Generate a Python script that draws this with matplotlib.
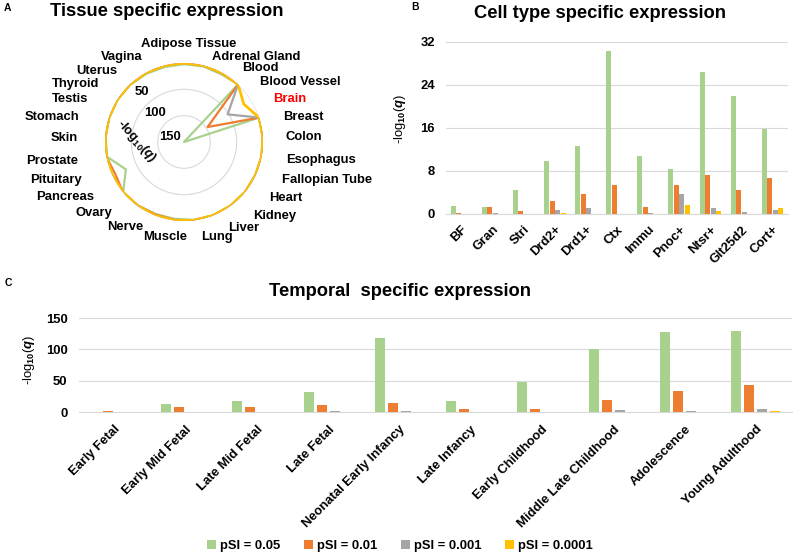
import numpy as np
import matplotlib
matplotlib.use("Agg")
from matplotlib import pyplot as plt

plt.rcParams['font.family'] = ['Liberation Sans', 'DejaVu Sans']
plt.rcParams['font.weight'] = 'bold'
plt.rcParams['mathtext.fontset'] = 'custom'
plt.rcParams['mathtext.rm'] = 'Liberation Sans:bold'
plt.rcParams['mathtext.it'] = 'Liberation Sans:italic:bold'
plt.rcParams['mathtext.bf'] = 'Liberation Sans:bold'

# ---- data ----
series = ['pSI = 0.05', 'pSI = 0.01', 'pSI = 0.001', 'pSI = 0.0001']
colors = ['#A9D18E', '#ED7D31', '#A5A5A5', '#FFC000']

tissues = ['Adipose Tissue', 'Adrenal Gland', 'Blood', 'Blood Vessel', 'Brain',
           'Breast', 'Colon', 'Esophagus', 'Fallopian Tube', 'Heart', 'Kidney',
           'Liver', 'Lung', 'Muscle', 'Nerve', 'Ovary', 'Pancreas', 'Pituitary',
           'Prostate', 'Skin', 'Stomach', 'Testis', 'Thyroid', 'Uterus', 'Vagina']
tis_p05 = [2, 2, 3, 0, 150, 0, 0, 0, 1, 0, 0, 0, 1, 3, 3, 1, 0, 28, 1, 1, 1, 0, 1, 2, 3]
tis_p01 = [0, 0, 1, 0, 97, 0, 0, 0, 0, 0, 0, 0, 0, 1, 2, 1, 0, 6, 0, 0, 0, 0, 0, 0, 0]
tis_p001 = [0, 0, 0, 0, 52, 0, 0, 0, 0, 0, 0, 0, 0, 0, 0, 0, 0, 0, 0, 0, 0, 0, 0, 0, 0]
tis_p0001 = [0, 0, 0, 0, 15.5, 0, 0, 0, 0, 0, 0, 0, 0, 0, 0, 0, 0, 0, 0, 0, 0, 0, 0, 0, 0]

cells = ['BF', 'Gran', 'Stri', 'Drd2+', 'Drd1+', 'Ctx', 'Immu', 'Pnoc+', 'Ntsr+',
         'Glt25d2', 'Cort+']
cell_p05 = [1.5, 1.35, 4.45, 9.8, 12.6, 30.3, 10.8, 8.3, 26.3, 22.0, 15.8]
cell_p01 = [0.12, 1.3, 0.55, 2.35, 3.65, 5.3, 1.3, 5.3, 7.3, 4.5, 6.7]
cell_p001 = [0.03, 0.1, 0, 0.75, 1.2, 0, 0.1, 3.65, 1.2, 0.45, 0.8]
cell_p0001 = [0, 0, 0, 0.25, 0, 0, 0, 1.67, 0.6, 0, 1.2]

stages = ['Early Fetal', 'Early Mid Fetal', 'Late Mid Fetal', 'Late Fetal',
          'Neonatal Early Infancy', 'Late Infancy', 'Early Childhood',
          'Middle Late Childhood', 'Adolescence', 'Young Adulthood']
stage_p05 = [0.3, 12.7, 18.6, 33, 118, 18.6, 48.3, 101, 127, 129]
stage_p01 = [2, 9, 8, 12.2, 15.4, 5.3, 4.8, 20.2, 34, 43.5]
stage_p001 = [0, 0, 0, 2, 2.6, 0, 0, 3.2, 1.6, 5.8]
stage_p0001 = [0, 0, 0, 0, 0, 0, 0, 0, 0, 1.6]

W, H = 800, 556
fig = plt.figure(figsize=(8, 5.56), dpi=100)

def px(x, y):
    return x / W, 1 - y / H

# ---- panel A: radar ----
cx, cy, R = 184, 142, 79
axA = fig.add_axes([(cx - R) / W, 1 - (cy + R) / H, 2 * R / W, 2 * R / H],
                   projection='polar')
axA.set_theta_zero_location('N')
axA.set_theta_direction(-1)
theta = np.linspace(0, 2 * np.pi, len(tissues), endpoint=False)
theta_c = np.append(theta, theta[0])
for vals, c, lw in zip([tis_p05, tis_p01, tis_p001, tis_p0001], colors,
                       [1.6, 1.6, 1.6, 2.0]):
    axA.plot(theta_c, np.append(vals, vals[0]), color=c, lw=lw)
axA.set_ylim(150, 0)
axA.set_yticks([0, 50, 100])
axA.set_yticklabels([])
axA.set_xticks([])
axA.grid(True, color='#d9d9d9', lw=0.8)
axA.xaxis.grid(False)
axA.spines['polar'].set_visible(False)
axA.patch.set_alpha(0)

# tissue labels (pixel anchors, Excel-like layout)
lab_pos = [(189, 44, 'center'), (212, 57, 'left'), (242, 68, 'left'),
           (260, 82, 'left'), (273, 99, 'left'), (283, 117, 'left'),
           (286, 137, 'left'), (286, 160, 'left'), (282, 180, 'left'),
           (269, 198, 'left'), (253, 216, 'left'), (228, 228, 'left'),
           (201, 237, 'left'), (143, 237, 'left'), (143, 227, 'right'),
           (112, 213, 'right'), (94, 197, 'right'), (82, 180, 'right'),
           (78, 161, 'right'), (78, 138, 'right'), (79, 117, 'right'),
           (88, 99, 'right'), (99, 84, 'right'), (117, 71, 'right'),
           (143, 57, 'right')]
for name, (x, y, ha) in zip(tissues, lab_pos):
    fig.text(*px(x, y), name, ha=ha, va='center', fontsize=9.4,
             color='red' if name == 'Brain' else 'black')
for lab, (x, y) in zip(['50', '100', '150'], [(142, 92), (155, 113), (170, 137)]):
    fig.text(*px(x, y), lab, ha='center', va='center', fontsize=9.4)
fig.text(*px(136, 141), r'-log$_{10}$($\it{q}$)', ha='center', va='center',
         fontsize=9.4, rotation=-48)
fig.text(*px(167, 12), 'Tissue specific expression', ha='center', va='center',
         fontsize=13.2)
fig.text(*px(7, 8), 'A', ha='center', va='center', fontsize=7.5)


def bars(ax, cats, vals_list, width, slot):
    x = np.arange(len(cats))
    handles = []
    for k, (vals, c) in enumerate(zip(vals_list, colors)):
        handles.append(ax.bar(x + (k - 1.5) * slot, vals, width, color=c,
                              label=series[k], zorder=3))
    ax.set_xlim(-0.5, len(cats) - 0.5)
    ax.set_xticks(x)
    ax.set_xticklabels(cats, rotation=45, ha='right', rotation_mode='anchor',
                       fontsize=9.4)
    ax.tick_params(length=0)
    ax.grid(axis='y', color='#d9d9d9', lw=0.8, zorder=0)
    for s in ['top', 'right', 'left']:
        ax.spines[s].set_visible(False)
    ax.spines['bottom'].set_color('#d9d9d9')
    ax.set_ylabel(r'-log$_{10}$($\it{q}$)', fontsize=9.4)
    return handles

# ---- panel B ----
axB = fig.add_axes([446 / W, 1 - 214 / H, 342 / W, 172.3 / H])
bars(axB, cells, [cell_p05, cell_p01, cell_p001, cell_p0001], 0.16, 0.177)
axB.set_ylim(0, 32)
axB.set_yticks([0, 8, 16, 24, 32])
axB.tick_params(axis='y', labelsize=9.4, pad=8)
axB.tick_params(axis='x', pad=7)
axB.yaxis.set_label_coords(-0.11, 0.55)
fig.text(*px(600, 13), 'Cell type specific expression', ha='center',
         va='center', fontsize=13.2)
fig.text(*px(415, 7), 'B', ha='center', va='center', fontsize=7.5)

# ---- panel C ----
axC = fig.add_axes([78.5 / W, 1 - 412.3 / H, 713 / W, 94.3 / H])
hs = bars(axC, stages, [stage_p05, stage_p01, stage_p001, stage_p0001], 0.14, 0.182)
axC.set_ylim(0, 150)
axC.set_yticks([0, 50, 100, 150])
axC.tick_params(axis='y', labelsize=9.4, pad=8)
axC.tick_params(axis='x', pad=8)
axC.yaxis.set_label_coords(-0.058, 0.55)
fig.text(*px(400, 292), 'Temporal  specific expression', ha='center',
         va='center', fontsize=13.2)
fig.text(*px(8, 283), 'C', ha='center', va='center', fontsize=7.5)

fig.legend(handles=hs, labels=series, loc='center', ncol=4,
           bbox_to_anchor=(0.5, 1 - 546 / H), frameon=False, fontsize=9.4,
           handlelength=0.7, handleheight=0.7, handletextpad=0.3,
           columnspacing=1.8)

fig.savefig('out.png', dpi=100)
